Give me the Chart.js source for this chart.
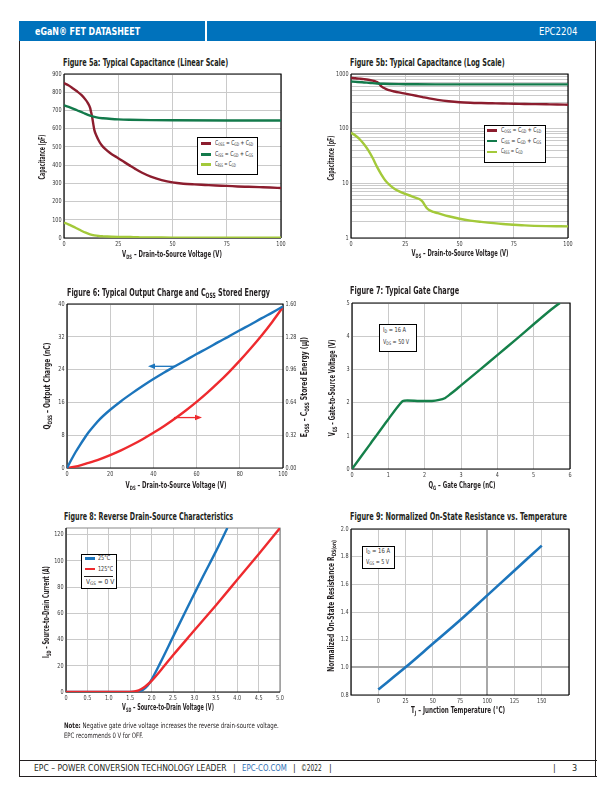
<!DOCTYPE html>
<html><head><meta charset="utf-8">
<script src="https://cdn.jsdelivr.net/npm/chart.js@4.4.1/dist/chart.umd.min.js"></script>
<style>
body{margin:0;background:#fff;}
#page{position:relative;width:612px;height:792px;overflow:hidden;font-family:"Liberation Sans Narrow","DejaVu Sans Condensed",sans-serif;color:#231f20;}
.abs{position:absolute;white-space:nowrap;line-height:1;}
.title{font-weight:bold;font-size:10.5px;}
.axt{font-weight:bold;font-size:8.5px;}
sub{font-size:70%;vertical-align:-0.3em;line-height:0;}
canvas{position:absolute;}
.box{position:absolute;border:1.3px solid #000;background:#fff;box-sizing:border-box;}
.lt{font-size:6.8px;color:#333;}
.sw{position:absolute;height:2.5px;}
.line{position:absolute;background:#231f20;}
</style></head>
<body><div id="page">
<div class="abs" style="left:19px;top:21px;width:577px;height:20px;background:#0072bc;"></div>
<div class="abs" style="left:205px;top:21px;width:1.5px;height:20px;background:#fff;"></div>
<div class="line" style="left:18.5px;top:41px;width:1.3px;height:736px;"></div>
<div class="line" style="left:595px;top:41px;width:1.3px;height:736px;"></div>
<div class="line" style="left:18.5px;top:760px;width:578px;height:1.3px;"></div>
<div class="line" style="left:18.5px;top:776px;width:578px;height:1.3px;"></div>
</div>

<script>
// ---------- data ----------
const capV   = [0,2,4,6,8,10,11,12,12.5,13,13.5,14,15,16,17,18,20,22,25,28,30,33,36,40,45,50,55,60,65,70,75,80,85,90,95,100];
const cossPF = [850,838,822,805,785,758,740,715,690,662,625,592,560,535,515,500,478,460,438,415,400,378,358,337,318,305,298,294,291,288,286,283,281,279,277,274];
const cissV  = [0,3,6,9,12,15,18,22,25,30,40,50,75,100];
const cissPF = [728,716,701,686,672,662,657,653,651,649,647,646,645,645];
const crssV  = [0,2,4,6,8,10,12,14,16,18,20,22,25,28,30,32,33,34,35,36,38,40,45,50,55,60,70,75,80,90,100];
const crssPF = [84,75,64,52,40,29,20,14.5,11,9.2,8,7.2,6.4,5.8,5.4,5.0,4.6,4.0,3.5,3.25,3.0,2.85,2.5,2.25,2.08,1.97,1.8,1.75,1.7,1.65,1.63];

const qV    = [0,2,4,6,8,10,12,15,20,25,30,35,40,45,50,55,60,65,70,75,80,85,90,95,100];
const qossNC= [0,2.0,3.9,5.6,7.2,8.7,10.0,11.8,14.2,16.3,18.2,20.0,21.7,23.3,24.8,26.3,27.8,29.2,30.7,32.1,33.6,35.0,36.5,37.9,39.4];
const eV    = [0,5,10,15,20,25,30,35,40,45,50,55,60,65,70,75,80,85,90,95,100];
const eossUJ= [0,0.018,0.05,0.085,0.126,0.172,0.224,0.281,0.343,0.41,0.483,0.561,0.645,0.735,0.832,0.936,1.047,1.165,1.29,1.425,1.57];

const qgNC  = [0,0.5,1.0,1.4,1.8,2.2,2.4,2.55,2.7,2.85,3.0,3.5,4.0,4.5,5.0,5.5,5.72];
const vgsV  = [0,0.75,1.5,2.05,2.05,2.05,2.08,2.13,2.25,2.38,2.52,2.97,3.43,3.89,4.36,4.82,5.0];

const vsd25  = [0,0.5,1.0,1.5,1.6,1.7,1.8,1.9,2.0,2.2,2.5,2.8,3.0,3.2,3.5,3.77];
const isd25  = [0,0,0,0,0.1,0.5,1.8,4.5,9.5,22,42,62,75,88,107,125];
const vsd125 = [0,0.5,1.0,1.5,1.6,1.7,1.8,1.9,2.0,2.2,2.5,3.0,3.5,4.0,4.5,5.0];
const isd125 = [0,0,0,0.1,0.4,1.3,3,5.5,8.5,16,28,47,66,85.5,105,125];

const tjC   = [0,25,50,75,100,125,150];
const rdsN  = [0.84,1.0,1.17,1.34,1.52,1.70,1.88];

// ---------- ticks ----------
const capXTicks = [0,25,50,75,100];
const capYTicks = [0,100,200,300,400,500,600,700,800,900];
const logYTicks = [1,2,3,4,5,6,7,8,9,10,20,30,40,50,60,70,80,90,100,200,300,400,500,600,700,800,900,1000];
const f6XTicks = [0,20,40,60,80,100];
const f6YTicks = [0,8,16,24,32,40];
const f6RTicks = [0,0.32,0.64,0.96,1.28,1.60];
const f7XTicks = [0,1,2,3,4,5,6];
const f7YTicks = [0,1,2,3,4,5];
const f8XTicks = [0,0.5,1.0,1.5,2.0,2.5,3.0,3.5,4.0,4.5,5.0];
const f8YTicks = [0,20,40,60,80,100,120];
const f9XTicks = [-25,0,25,50,75,100,125,150,175];
const f9YTicks = [0.8,1.0,1.2,1.4,1.6,1.8,2.0];

// ---------- colours ----------
const C_COSS='#8c1d2e', C_CISS='#137a4b', C_CRSS='#a3c93a', C_BLUE='#1c75bc', C_RED='#ee2a2e', C_GATE='#15804a';
const GRID='#cacaca';
const FONT="'Liberation Sans Narrow','DejaVu Sans Condensed',sans-serif";

const page=document.getElementById('page');
const pts=(xs,ys)=>xs.map((x,i)=>({x:x,y:ys[i]}));

// ---------- text helper: fits each label to the width measured on the reference ----------
function T(x,cy,html,cls,w,mode,style){
  const d=document.createElement('div');d.className='abs '+(cls||'');d.innerHTML=html;
  if(style)d.style.cssText+=style;page.appendChild(d);
  const k=w?w/d.offsetWidth:1;const h=d.offsetHeight;
  if(mode==='rot'){d.style.left=x+'px';d.style.top=cy+'px';d.style.transform='translate(-50%,-50%) rotate(-90deg) scaleX('+k+')';}
  else if(mode==='center'){d.style.left=x+'px';d.style.top=cy+'px';d.style.transform='translate(-50%,-50%) scaleX('+k+')';}
  else if(mode==='right'){d.style.left=(x-d.offsetWidth)+'px';d.style.top=(cy-h/2)+'px';d.style.transformOrigin='right center';d.style.transform='scaleX('+k+')';}
  else{d.style.left=x+'px';d.style.top=(cy-h/2)+'px';d.style.transformOrigin='left center';d.style.transform='scaleX('+k+')';}
  return d;
}

// ---------- plugins ----------
const cbMap=new Map();
const framePlugin={id:'frame',beforeDatasetsDraw(chart,args,o){
  const a=chart.chartArea,ctx=chart.ctx;ctx.save();ctx.lineWidth=1.2;
  ctx.strokeStyle=o.top||'#000';ctx.beginPath();ctx.moveTo(a.left,a.top);ctx.lineTo(a.right,a.top);ctx.lineTo(a.right,a.bottom);ctx.stroke();
  ctx.strokeStyle=o.color||'#000';ctx.beginPath();ctx.moveTo(a.left,a.top);ctx.lineTo(a.left,a.bottom);ctx.lineTo(a.right,a.bottom);ctx.stroke();
  ctx.restore();}};
const arrowPlugin={id:'arrows',afterDatasetsDraw(chart,args,o){
  if(!o.list)return;const ctx=chart.ctx,xs=chart.scales.x,ys=chart.scales.y;
  o.list.forEach(a=>{const x1=xs.getPixelForValue(a.from[0]),y1=ys.getPixelForValue(a.from[1]);
    const x2=xs.getPixelForValue(a.to[0]),y2=ys.getPixelForValue(a.to[1]);
    const d=Math.sign(x2-x1);ctx.save();ctx.strokeStyle=a.color;ctx.fillStyle=a.color;ctx.lineWidth=1.3;
    ctx.beginPath();ctx.moveTo(x1,y1);ctx.lineTo(x2-d*5,y2);ctx.stroke();
    ctx.beginPath();ctx.moveTo(x2,y2);ctx.lineTo(x2-d*7,y2-2.8);ctx.lineTo(x2-d*7,y2+2.8);ctx.closePath();ctx.fill();ctx.restore();});}};
// narrow tick labels, positioned by the chart's own scales
const tickPlugin={id:'narrowTicks',afterDraw(chart){
  const cbs=cbMap.get(chart.canvas);if(!cbs)return;const ctx=chart.ctx,a=chart.chartArea;
  Object.keys(cbs).forEach(id=>{const s=chart.scales[id];if(!s)return;const cb=cbs[id];
    ctx.save();ctx.fillStyle='#3a3a3a';ctx.font='6.8px '+FONT;
    s.ticks.forEach(t=>{const lab=cb(t.value);if(!lab)return;const p=s.getPixelForValue(t.value);let x,y;
      if(s.isHorizontal()){x=p;y=a.bottom+2.5;ctx.textAlign='center';ctx.textBaseline='top';}
      else if(s.position==='left'){x=a.left-2.5;y=p;ctx.textAlign='right';ctx.textBaseline='middle';}
      else{x=a.right+2.5;y=p;ctx.textAlign='left';ctx.textBaseline='middle';}
      ctx.save();ctx.translate(x,y);ctx.scale(0.8,1);ctx.fillText(lab,0,0);ctx.restore();});
    ctx.restore();});}};

function axis(o){
  return {type:o.type||'linear',min:o.min,max:o.max,position:o.position,
    afterBuildTicks:s=>{s.ticks=o.ticks.map(v=>({value:v}));},
    afterFit:s=>{if(o.w!==undefined)s.width=o.w;if(o.h!==undefined)s.height=o.h;},
    grid:{display:o.grid!==false,drawTicks:false,color:o.gridColor||GRID,lineWidth:o.gridWidth||1},
    border:{display:false},ticks:{display:false,autoSkip:false}};
}
const num=v=>String(v);
function makeChart(area,o){
  const yw=30,rw=o.rw||10,pt=6,xh=16;
  const c=document.createElement('canvas');
  const w=yw+(area.r-area.l)+rw,h=pt+(area.b-area.t)+xh;
  c.width=w;c.height=h;c.style.left=(area.l-yw)+'px';c.style.top=(area.t-pt)+'px';
  c.style.width=w+'px';c.style.height=h+'px';page.appendChild(c);
  const scales={x:axis(Object.assign({h:xh},o.x)),y:axis(Object.assign({w:yw},o.y))};
  const cbs={x:o.x.cb||num,y:o.y.cb||num};
  if(o.y2){scales.y2=axis(Object.assign({w:rw,position:'right',grid:false},o.y2));cbs.y2=o.y2.cb||num;}
  cbMap.set(c,cbs);
  new Chart(c,{type:'line',data:{datasets:o.datasets.map(d=>Object.assign({pointRadius:0,borderWidth:2.4,fill:false,cubicInterpolationMode:'monotone'},d))},
    options:{responsive:false,animation:false,devicePixelRatio:1,
      layout:{padding:{top:pt,right:o.y2?0:rw,left:0,bottom:0}},
      plugins:{legend:{display:false},tooltip:{enabled:false},frame:o.frame||{},arrows:o.arrows||{}},
      scales:scales},
    plugins:[framePlugin,arrowPlugin,tickPlugin]});
}

// Figure 5a
makeChart({l:64,t:74,r:281,b:238},{
  x:{min:0,max:100,ticks:capXTicks},y:{min:0,max:900,ticks:capYTicks},
  datasets:[{data:pts(crssV,crssPF),borderColor:C_CRSS},{data:pts(cissV,cissPF),borderColor:C_CISS},{data:pts(capV,cossPF),borderColor:C_COSS}]});
// Figure 5b
makeChart({l:351,t:74,r:568,b:238},{
  x:{min:0,max:100,ticks:capXTicks},
  y:{type:'logarithmic',min:1,max:1000,ticks:logYTicks,cb:v=>([1,10,100,1000].includes(v)?String(v):'')},
  datasets:[{data:pts(crssV,crssPF),borderColor:C_CRSS},{data:pts(cissV,cissPF),borderColor:C_CISS},{data:pts(capV,cossPF),borderColor:C_COSS}]});
// Figure 6
makeChart({l:67,t:304,r:283,b:468},{rw:30,
  x:{min:0,max:100,ticks:f6XTicks},y:{min:0,max:40,ticks:f6YTicks},
  y2:{min:0,max:1.6,ticks:f6RTicks,cb:v=>v.toFixed(2)},
  datasets:[{data:pts(qV,qossNC),borderColor:C_BLUE,yAxisID:'y'},{data:pts(eV,eossUJ),borderColor:C_RED,yAxisID:'y2'}],
  arrows:{list:[{from:[50,24.8],to:[37.5,24.8],color:C_BLUE},{from:[49.5,12.3],to:[62.5,12.3],color:C_RED}]}});
// Figure 7
makeChart({l:352,t:303,r:570,b:469},{
  x:{min:0,max:6,ticks:f7XTicks},y:{min:0,max:5,ticks:f7YTicks},
  datasets:[{data:pts(qgNC,vgsV),borderColor:C_GATE,cubicInterpolationMode:'default',tension:0.15}]});
// Figure 8
makeChart({l:66,t:528,r:280,b:692},{
  x:{min:0,max:5,ticks:f8XTicks,cb:v=>(v===0?'0':v.toFixed(1))},y:{min:0,max:125,ticks:f8YTicks},
  frame:{color:'#000',top:'#888'},
  datasets:[{data:pts(vsd125,isd125),borderColor:C_RED},{data:pts(vsd25,isd25),borderColor:C_BLUE}]});
// Figure 9
makeChart({l:351,t:529,r:569,b:695},{
  x:{min:-25,max:175,ticks:f9XTicks,cb:v=>((v<0||v>150)?'':String(v)),gridColor:c=>(c.tick&&c.tick.value===100?'#a8a8a8':GRID),gridWidth:c=>(c.tick&&c.tick.value===100?2:1)},
  y:{min:0.8,max:2.0,ticks:f9YTicks,cb:v=>v.toFixed(1),gridColor:c=>(c.tick&&Math.abs(c.tick.value-1)<1e-9?'#a8a8a8':GRID),gridWidth:c=>(c.tick&&Math.abs(c.tick.value-1)<1e-9?2:1)},
  datasets:[{data:pts(tjC,rdsN),borderColor:C_BLUE,borderWidth:2.6}]});

// ---------- header / footer ----------
T(35,31,'eGaN® FET DATASHEET','',105,'left','font-size:11px;font-weight:bold;color:#fff;');
T(577,31,'EPC2204','',38,'right','font-size:11px;color:#fff;');
const FS='font-size:9px;color:#231f20;';
T(34,768.5,'EPC – POWER CONVERSION TECHNOLOGY LEADER','',193,'left',FS);
T(233,768.5,'|','',0,'left',FS);
T(242,768.5,'EPC-CO.COM','',45,'left','font-size:9px;color:#2f6fb5;');
T(293,768.5,'|','',0,'left',FS);
T(301,768.5,'©2022','',21,'left',FS);
T(329,768.5,'|','',0,'left',FS);
T(553,768.5,'|','',0,'left',FS);
T(572,768.5,'3','',0,'left',FS);

// ---------- titles ----------
T(63,62,'Figure 5a: Typical Capacitance (Linear Scale)','title',165);
T(350,62,'Figure 5b: Typical Capacitance (Log Scale)','title',155);
T(66.5,292.5,'Figure 6: Typical Output Charge and C<sub>OSS</sub> Stored Energy','title',203);
T(350,290.5,'Figure 7: Typical Gate Charge','title',109);
T(64,516.5,'Figure 8: Reverse Drain-Source Characteristics','title',169);
T(350,516.5,'Figure 9: Normalized On-State Resistance vs. Temperature','title',217);

// ---------- axis titles ----------
const VDS='V<sub>DS</sub> – Drain-to-Source Voltage (V)';
T(41.7,157,'Capacitance (pF)','axt',45,'rot');
T(172,254,VDS,'axt',100,'center');
T(331,158,'Capacitance (pF)','axt',45,'rot');
T(460,253,VDS,'axt',97,'center');
T(47,386,'Q<sub>OSS</sub> – Output Charge (nC)','axt',87,'rot');
T(303.5,387,'E<sub>OSS</sub> – C<sub>OSS</sub> Stored Energy (µJ)','axt',100,'rot');
T(176,485,VDS,'axt',101,'center');
T(331.5,388,'V<sub>GS</sub> – Gate-to-Source Voltage (V)','axt',97,'rot');
T(461.5,485,'Q<sub>G</sub> – Gate Charge (nC)','axt',67,'center');
T(46,612,'I<sub>SD</sub> – Source-to-Drain Current (A)','axt',92,'rot');
T(168,707,'V<sub>SD</sub> – Source-to-Drain Voltage (V)','axt',92,'center');
T(330.5,606,'Normalized On-State Resistance R<sub>DS(on)</sub>','axt',132,'rot');
T(458,710,'T<sub>J</sub> – Junction Temperature (°C)','axt',94,'center');

T(64,726,'<b>Note:</b> Negative gate drive voltage increases the reverse drain-source voltage.','',215,'left','font-size:7.5px;');
T(64,735.5,'EPC recommends 0 V for OFF.','',79,'left','font-size:7.5px;');

// ---------- legends / annotation boxes ----------
function addBox(l,t,w,h){const d=document.createElement('div');d.className='box';d.style.left=l+'px';d.style.top=t+'px';d.style.width=w+'px';d.style.height=h+'px';page.appendChild(d);}
function addSw(l,cy,w,color){const d=document.createElement('div');d.className='sw';d.style.left=l+'px';d.style.top=(cy-1.25)+'px';d.style.width=w+'px';d.style.background=color;page.appendChild(d);}
const capItems=[[C_COSS,'C<sub>OSS</sub> = C<sub>GD</sub> + C<sub>SD</sub>'],[C_CISS,'C<sub>ISS</sub> = C<sub>GD</sub> + C<sub>GS</sub>'],[C_CRSS,'C<sub>RSS</sub> = C<sub>GD</sub>']];
function capLegend(l,t,w,h,rows,swx,tx,widths){
  addBox(l,t,w,h);
  capItems.forEach((it,i)=>{addSw(swx,rows[i],10,it[0]);T(tx,rows[i],it[1],'lt',widths[i]);});
}
capLegend(196.5,136.5,61,38.5,[143.3,154.3,164.5],200.5,214.5,[38,38,21]);
capLegend(484,124.5,62,38.5,[130.5,141.2,151.8],487,500.5,[40,40,22]);
addBox(379,324,38,28);T(383,330.5,'I<sub>D</sub> = 16 A','lt',23);T(383,342.5,'V<sub>DS</sub> = 50 V','lt',26);
addBox(80.5,553.5,36.5,35.5);addSw(85,558.5,10,C_BLUE);T(97.5,558.5,'25°C','lt',12);addSw(85,569,10,C_RED);T(97.5,569,'125°C','lt',15);
(function(){const d=document.createElement('div');d.className='line';d.style.left='84px';d.style.top='575.5px';d.style.width='29px';d.style.height='0.8px';page.appendChild(d);})();
T(86,582,'V<sub>GS</sub> = 0 V','lt',28);
addBox(362,546,32.5,22.5);T(365.5,551,'I<sub>D</sub> = 16 A','lt',24);T(365.5,562.5,'V<sub>GS</sub> = 5 V','lt',23);
</script>
</body></html>
